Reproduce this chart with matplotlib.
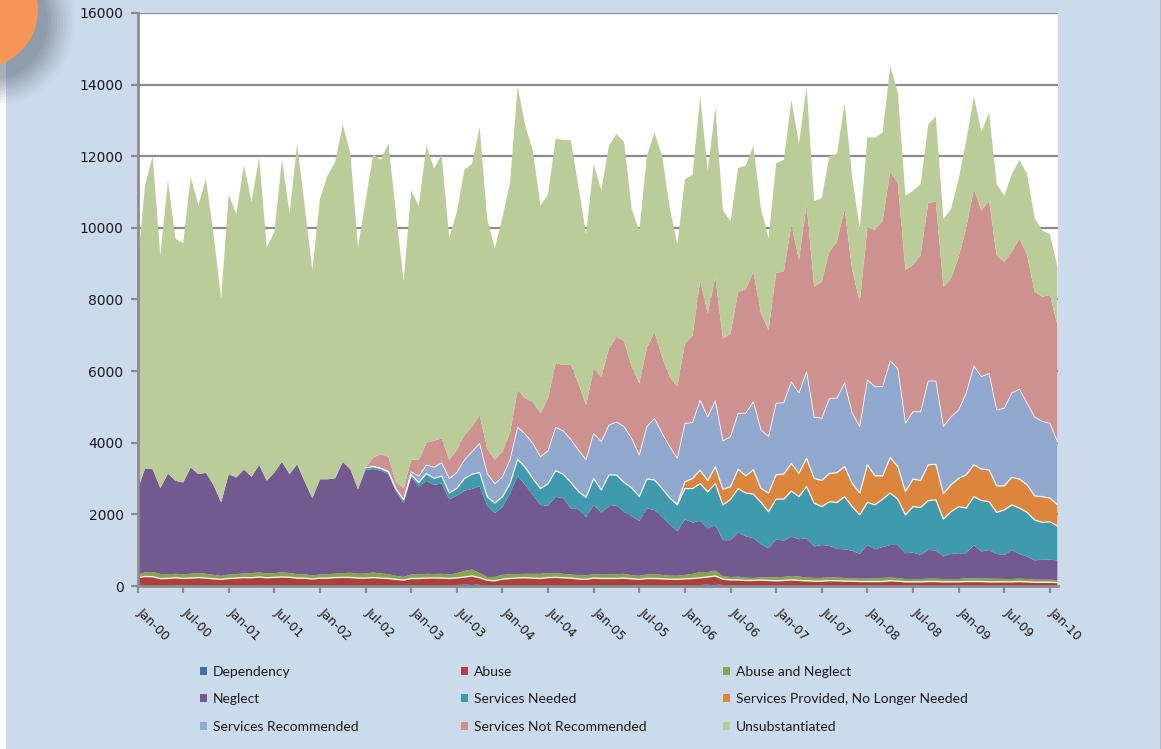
import numpy as np
import matplotlib.pyplot as plt
from matplotlib.patches import Rectangle, Circle
from matplotlib.transforms import ScaledTranslation

# monthly counts, Jan-00 .. Feb-10
dependency = [20, 25, 20, 15, 20, 30, 20, 20, 25, 20, 20, 15,
              20, 20, 25, 20, 30, 20, 20, 20, 25, 20, 20, 15,
              20, 20, 25, 20, 20, 20, 20, 25, 20, 20, 15, 15,
              20, 20, 20, 25, 20, 20, 25, 40, 60, 30, 20, 15,
              20, 20, 25, 20, 20, 20, 25, 20, 20, 20, 15, 15,
              20, 20, 20, 20, 20, 20, 15, 20, 20, 20, 20, 15,
              20, 20, 20, 50, 60, 20, 20, 20, 15, 15, 15, 15,
              15, 15, 20, 15, 15, 15, 15, 20, 15, 15, 15, 15,
              15, 15, 15, 15, 15, 15, 15, 15, 15, 15, 15, 15,
              15, 15, 15, 15, 15, 15, 15, 15, 15, 15, 15, 15, 15, 15]
abuse = [210, 240, 240, 190, 190, 200, 190, 200, 210, 200, 180, 170,
         190, 200, 210, 210, 220, 210, 220, 230, 220, 200, 200, 180,
         200, 200, 210, 220, 220, 200, 200, 210, 200, 190, 170, 150,
         190, 190, 200, 200, 200, 190, 200, 210, 220, 200, 140, 130,
         170, 190, 200, 210, 200, 190, 210, 220, 210, 200, 180, 170,
         200, 190, 190, 190, 200, 180, 170, 190, 190, 180, 170, 170,
         180, 190, 210, 200, 220, 170, 150, 150, 140, 140, 150, 140,
         130, 140, 150, 140, 130, 120, 120, 130, 130, 120, 120, 110,
         110, 110, 110, 130, 120, 100, 100, 100, 110, 110, 100, 100,
         100, 110, 110, 110, 100, 100, 100, 100, 110, 100, 90, 90, 90, 80]
abuse_neglect = [80, 120, 130, 130, 120, 110, 120, 120, 130, 120, 110, 100,
                 110, 110, 120, 130, 130, 120, 120, 130, 120, 110, 110, 100,
                 100, 110, 110, 120, 130, 120, 130, 140, 130, 120, 100, 90,
                 110, 110, 120, 110, 120, 110, 130, 170, 180, 130, 90, 110,
                 120, 120, 110, 110, 120, 130, 130, 120, 110, 100, 110, 110,
                 110, 110, 110, 120, 120, 100, 100, 110, 120, 110, 100, 100,
                 110, 130, 160, 140, 150, 90, 80, 90, 80, 70, 80, 90,
                 100, 100, 110, 110, 90, 90, 90, 100, 90, 90, 80, 80,
                 80, 90, 100, 90, 90, 80, 80, 80, 80, 80, 80, 80,
                 80, 90, 90, 100, 90, 90, 80, 80, 80, 80, 70, 70, 70, 70]
neglect = [2370, 2900, 2870, 2400, 2810, 2600, 2560, 2970, 2760, 2820, 2510, 2050,
           2800, 2700, 2900, 2690, 3000, 2590, 2810, 3090, 2760, 3070, 2580, 2160,
           2660, 2650, 2660, 3110, 2890, 2360, 2890, 2890, 2870, 2790, 2350, 2060,
           2730, 2450, 2600, 2490, 2520, 2100, 2170, 2240, 2250, 2430, 1990, 1780,
           1900, 2260, 2740, 2480, 2200, 1920, 1880, 2130, 2110, 1850, 1840, 1630,
           1930, 1730, 1910, 1920, 1730, 1650, 1530, 1850, 1790, 1620, 1430, 1240,
           1550, 1430, 1430, 1220, 1270, 1000, 1030, 1240, 1150, 1110, 920, 810,
           1060, 1010, 1100, 1040, 1100, 880, 920, 870, 800, 800, 770, 690,
           940, 810, 860, 910, 920, 720, 740, 670, 800, 790, 630, 700,
           720, 700, 930, 740, 800, 690, 670, 810, 690, 630, 540, 560, 560, 550]
services_needed = [0] * 30 + [
    60, 70, 60, 70, 70, 90,
    50, 120, 200, 180, 210, 180, 200, 340, 410, 380, 250, 280,
    280, 270, 460, 490, 460, 460, 610, 730, 670, 720, 490, 550,
    740, 630, 870, 850, 820, 790, 680, 820, 840, 790, 740, 740,
    860, 950, 1040, 1020, 1160, 980, 1140, 1220, 1210, 1230, 1170, 1020,
    1120, 1160, 1270, 1190, 1440, 1210, 1070, 1230, 1300, 1470, 1230, 1090,
    1190, 1240, 1340, 1450, 1280, 1070, 1280, 1330, 1380, 1410, 1040, 1180,
    1300, 1260, 1350, 1420, 1350, 1160, 1260, 1260, 1280, 1230, 1130, 1040, 1060, 960]
services_provided = [0] * 71 + [
    20,
    190, 280, 370, 310, 470, 440, 350, 540, 480, 680, 390, 520,
    680, 700, 770, 650, 790, 690, 730, 790, 830, 840, 650, 610,
    1050, 810, 650, 990, 910, 650, 770, 750, 1000, 990, 710, 750,
    790, 930, 890, 880, 890, 740, 670, 770, 810, 770, 670, 720, 660, 590]
services_recommended = [0] * 31 + [
    10, 10, 10, 10, 10,
    90, 180, 240, 310, 370, 400, 440, 520, 630, 810, 650, 540,
    560, 660, 900, 930, 980, 890, 920, 1210, 1210, 1200, 1160, 1050,
    1260, 1350, 1390, 1480, 1560, 1380, 1160, 1460, 1720, 1540, 1430, 1280,
    1630, 1560, 1960, 1780, 1840, 1350, 1400, 1560, 1750, 1900, 1630, 1580,
    2000, 1990, 2280, 2240, 2420, 1710, 1740, 2100, 2080, 2340, 1960, 1860,
    2370, 2490, 2490, 2700, 2740, 1910, 1880, 1920, 2340, 2330, 1880, 1900,
    1910, 2280, 2760, 2580, 2690, 2120, 2170, 2360, 2510, 2280, 2200, 2100, 2090, 1770]
services_not_recommended = [0] * 31 + [
    240, 390, 410, 180, 310,
    340, 450, 600, 740, 680, 520, 630, 690, 700, 790, 700, 670,
    700, 760, 1040, 1000, 1160, 1210, 1470, 1800, 1840, 2090, 1860, 1530,
    1790, 1810, 2140, 2380, 2390, 2000, 2000, 2210, 2420, 2140, 1950, 2000,
    2230, 2420, 3350, 2890, 3460, 2860, 2880, 3390, 3460, 3630, 3260, 2970,
    3640, 3660, 4400, 3720, 4660, 3640, 3810, 4090, 4370, 4850, 4000, 3480,
    4250, 4380, 4640, 5290, 5170, 4280, 4110, 4370, 4970, 5010, 3900, 3860,
    4280, 4620, 4940, 4640, 4830, 4320, 4090, 3940, 4210, 4130, 3500, 3480, 3580, 3250]
unsubstantiated = [6220, 7920, 8740, 6490, 8180, 6760, 6680, 8110, 7500, 8210, 7010, 5690,
                   7810, 7360, 8500, 7670, 8590, 6520, 6710, 8450, 7270, 8950, 7690, 6360,
                   7830, 8480, 8830, 9410, 8810, 6760, 7460, 8470, 8220, 8750, 7500, 5780,
                   7510, 7090, 8320, 7600, 7920, 6200, 6650, 7410, 7340, 8040, 6410, 5900,
                   6550, 6990, 8470, 7610, 7010, 5800, 5700, 6270, 6280, 6270, 5480, 4770,
                   5730, 5210, 5660, 5660, 5550, 4400, 4270, 5350, 5560, 5610, 4730, 3970,
                   4590, 4500, 5130, 3980, 4730, 3580, 3130, 3460, 3450, 3520, 2910, 2570,
                   3060, 3120, 3480, 3240, 3300, 2390, 2340, 2680, 2450, 2960, 2590, 2030,
                   2530, 2570, 2460, 2930, 2540, 2070, 2060, 1990, 2190, 2370, 1890, 1940,
                   2170, 2430, 2590, 2200, 2460, 1990, 1840, 2170, 2190, 2270, 2060, 1850, 1700, 1620]

labels = ['Dependency', 'Abuse', 'Abuse and Neglect', 'Neglect', 'Services Needed',
          'Services Provided, No Longer Needed', 'Services Recommended',
          'Services Not Recommended', 'Unsubstantiated']
colors = ['#3f6fa8', '#ad403d', '#87a64a', '#725a90', '#409aae',
          '#dc853c', '#91a8ce', '#cd9190', '#bacd98']
tick_labels = ['Jan-00', 'Jul-00', 'Jan-01', 'Jul-01', 'Jan-02', 'Jul-02', 'Jan-03',
               'Jul-03', 'Jan-04', 'Jul-04', 'Jan-05', 'Jul-05', 'Jan-06', 'Jul-06',
               'Jan-07', 'Jul-07', 'Jan-08', 'Jul-08', 'Jan-09', 'Jul-09', 'Jan-10']

series = np.array([dependency, abuse, abuse_neglect, neglect, services_needed,
                   services_provided, services_recommended,
                   services_not_recommended, unsubstantiated], dtype=float)
months = np.arange(series.shape[1])

W, H = 1161, 749
fig = plt.figure(figsize=(W / 100, H / 100), dpi=100, facecolor='white')

# slide background panel + orange bubble in the corner
fig.patches.append(Rectangle((6 / W, 0), 1154 / W, 1, transform=fig.transFigure,
                             facecolor='#ccdbec', edgecolor='none', zorder=0))
fig.patches.append(Rectangle((1160 / W, 0), 1 / W, 1, transform=fig.transFigure,
                             facecolor='#b8b8b8', edgecolor='none', zorder=0))
for r, a in zip(np.linspace(85, 58, 10), np.linspace(0.035, 0.11, 10)):
    fig.patches.append(Circle((-10, H - 22), r, transform=None,
                              facecolor='#5f6b78', edgecolor='none', alpha=a, zorder=1))
fig.patches.append(Circle((-20, H - 10), 58, transform=None,
                          facecolor='#f79556', edgecolor='none', zorder=2))

ax = fig.add_axes([137.5 / W, 163 / H, 920 / W, 573 / H])
ax.set_zorder(5)
ax.set_facecolor('white')

polys = ax.stackplot(months, series, colors=colors, labels=labels, linewidth=0)

# thin white separators Excel draws on some of the layers
cum = np.cumsum(series, axis=0)
for k, lw in [(1, 1.0), (4, 0.9), (5, 0.9), (6, 0.6)]:
    top = np.where(series[k] > 0, cum[k], np.nan)
    if k == 4:
        top = np.where(months >= 30, cum[k], np.nan)
    ax.plot(months, top, color='white', lw=lw, alpha=0.9)

ax.set_xlim(0, months[-1])
ax.set_ylim(0, 16000)
ax.set_yticks(np.arange(0, 16001, 2000))
ax.set_yticklabels([str(v) for v in range(0, 16001, 2000)])
ax.set_xticks(np.arange(0, 121, 6))
ax.set_xticklabels(tick_labels, rotation=-45, ha='left', va='top')
ax.set_axisbelow(True)
ax.yaxis.grid(True, color='#8c8c8c', lw=1.6)

for s in ['top', 'right']:
    ax.spines[s].set_visible(False)
for s in ['left', 'bottom']:
    ax.spines[s].set_color('#8c8c8c')
    ax.spines[s].set_linewidth(2)
    ax.spines[s].set_zorder(5)
ax.tick_params(axis='both', colors='#8c8c8c', width=1.6, length=5, labelcolor='#1a1a1a')
ax.tick_params(axis='y', labelsize=10, pad=5)
ax.tick_params(axis='x', labelsize=9, pad=9)
off = ScaledTranslation(-3 / 100, 0, fig.dpi_scale_trans)
for t in ax.get_xticklabels():
    t.set_transform(t.get_transform() + off)

# legend: 3 columns laid out like the Excel legend
col_x = [200, 461, 723]
for c in range(3):
    idx = [c, c + 3, c + 6]
    leg = fig.legend([polys[i] for i in idx], [labels[i] for i in idx],
                     loc='upper left', bbox_to_anchor=(col_x[c] / W, 1 - 666 / H),
                     frameon=False, ncol=1, prop={'family': 'Lato', 'size': 10},
                     handlelength=0.5, handleheight=0.5, handletextpad=0.45,
                     labelspacing=1.1, borderpad=0, borderaxespad=0)
    for t in leg.get_texts():
        t.set_color('#1a1a1a')

fig.savefig('out.png', dpi=100, facecolor=fig.get_facecolor())
